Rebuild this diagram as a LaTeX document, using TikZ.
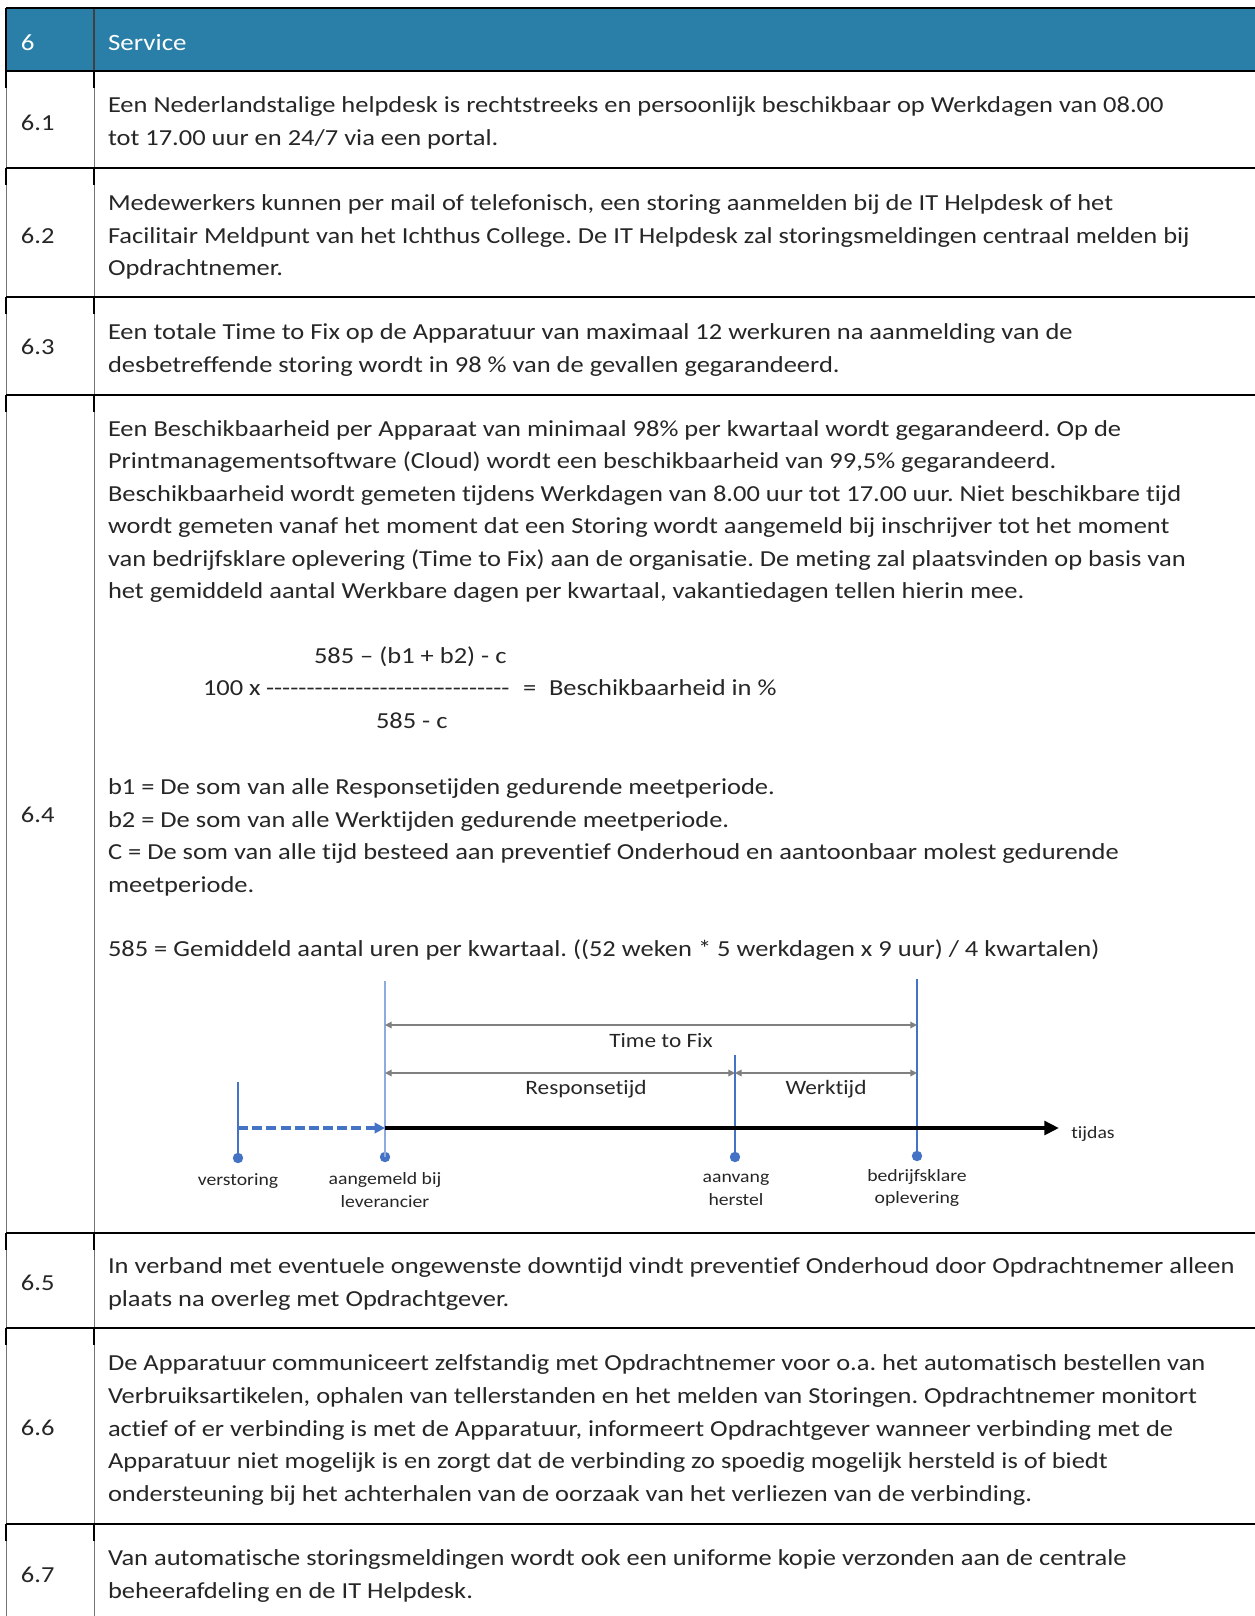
\documentclass[tikz,border=0pt]{standalone}
\usepackage{fontspec}
\setmainfont{Carlito}[FakeStretch=1.155,Ligatures=NoCommon]
\newfontfamily\diagfont{Carlito}[FakeStretch=1.14,Ligatures=NoCommon]
\usetikzlibrary{arrows.meta}
\definecolor{hdr}{RGB}{41,127,168}
\definecolor{txtc}{RGB}{38,38,38}
\definecolor{lblue}{RGB}{68,114,196}
\definecolor{pblue}{RGB}{143,170,220}
\definecolor{garr}{RGB}{128,128,128}
\frenchspacing
\begin{document}
\begin{tikzpicture}[x=0.48pt,y=-0.48pt,
 txt/.style={anchor=base west,inner sep=0,outer sep=0,text=txtc,font=\fontsize{11pt}{13pt}\selectfont},
 hdrtxt/.style={anchor=base west,inner sep=0,outer sep=0,text=white,font=\fontsize{11.2pt}{14pt}\selectfont},
 hline/.style={line width=0.75pt,black},
 vthin/.style={line width=0.45pt,black!55},
 stub/.style={line width=1.1pt,black},
 vblue/.style={line width=0.8pt,lblue},
 dot/.style={circle,fill=lblue,inner sep=0,minimum size=5pt},
 garrow/.style={line width=0.6pt,garr,{Triangle[length=3.2pt,width=3.2pt]}-{Triangle[length=3.2pt,width=3.2pt]}},
 lbl/.style={font=\diagfont\fontsize{9.8pt}{12pt}\selectfont,text=txtc,inner sep=0},
 slbl/.style={font=\diagfont\fontsize{8.3pt}{11pt}\selectfont,text=txtc,inner sep=0,align=center}]

\useasboundingbox (0,0) rectangle (1255,1616);
\fill[white] (0,0) rectangle (1255,1616);
\fill[hdr] (6,8) rectangle (1255,71);

% table grid
\draw[vthin] (6,8) -- (6,1616);
\draw[vthin] (94,8) -- (94,1616);
\draw[stub] (6,8) -- (6,71);
\draw[line width=0.5pt,black!75] (94,8) -- (94,71);
\foreach \y in {71,168,297,395,1233,1328,1524} {
  \draw[stub] (6,\y) -- (6,{\y+17});
  \draw[stub] (94,\y) -- (94,{\y+17});
  \draw[hline] (6,\y) -- (1255,\y);
}
\draw[line width=1pt,black] (6,8) -- (1255,8);

% header
\node[hdrtxt] (h6) at (21,50) {6};
\node[hdrtxt] (hs) at (108,50) {Service};

% numbers
\node[txt] (n61) at (21,130) {6.1};
\node[txt] (n62) at (21,243) {6.2};
\node[txt] (n63) at (21,354) {6.3};
\node[txt] (n64) at (21,822) {6.4};
\node[txt] (n65) at (21,1290) {6.5};
\node[txt] (n66) at (21,1435) {6.6};
\node[txt] (n67) at (21,1582) {6.7};

% 6.1
\node[txt] (t61a) at (108,112) {Een Nederlandstalige helpdesk is rechtstreeks en persoonlijk beschikbaar op Werkdagen van 08.00};
\node[txt] (t61b) at (108,145) {tot 17.00 uur en 24/7 via een portal.};
% 6.2
\node[txt] (t62a) at (108,210) {Medewerkers kunnen per mail of telefonisch, een storing aanmelden bij de IT Helpdesk of het};
\node[txt] (t62b) at (108,243) {Facilitair Meldpunt van het Ichthus College. De IT Helpdesk zal storingsmeldingen centraal melden bij};
\node[txt] (t62c) at (108,275) {Opdrachtnemer.};
% 6.3
\node[txt] (t63a) at (108,339) {Een totale Time to Fix op de Apparatuur van maximaal 12 werkuren na aanmelding van de};
\node[txt] (t63b) at (108,372) {desbetreffende storing wordt in 98 \% van de gevallen gegarandeerd.};
% 6.4
\node[txt] (t64a) at (108,436) {Een Beschikbaarheid per Apparaat van minimaal 98\% per kwartaal wordt gegarandeerd. Op de};
\node[txt] (t64b) at (108,468) {Printmanagementsoftware (Cloud) wordt een beschikbaarheid van 99,5\% gegarandeerd.};
\node[txt] (t64c) at (108,501) {Beschikbaarheid wordt gemeten tijdens Werkdagen van 8.00 uur tot 17.00 uur. Niet beschikbare tijd};
\node[txt] (t64d) at (108,533) {wordt gemeten vanaf het moment dat een Storing wordt aangemeld bij inschrijver tot het moment};
\node[txt] (t64e) at (108,566) {van bedrijfsklare oplevering (Time to Fix) aan de organisatie. De meting zal plaatsvinden op basis van};
\node[txt] (t64f) at (108,598) {het gemiddeld aantal Werkbare dagen per kwartaal, vakantiedagen tellen hierin mee.};
% formula
\node[txt] (fnum) at (314,663) {585 – (b1 + b2) - c};
\node[txt] (f100) at (203,695) {100 x};
\node[txt] (fdash) at (266,695) {\hbox to 117pt{\xleaders\hbox{-}\hfill}};
\node[txt] (feq) at (523,695) {=};
\node[txt] (fres) at (549,695) {Beschikbaarheid in \%};
\node[txt] (fden) at (376,728) {585 - c};
% definitions
\node[txt] (db1) at (108,794) {b1 = De som van alle Responsetijden gedurende meetperiode.};
\node[txt] (db2) at (108,827) {b2 = De som van alle Werktijden gedurende meetperiode.};
\node[txt] (dca) at (108,859) {C = De som van alle tijd besteed aan preventief Onderhoud en aantoonbaar molest gedurende};
\node[txt] (dcb) at (108,892) {meetperiode.};
\node[txt] (d585) at (108,956) {585 = Gemiddeld aantal uren per kwartaal. ((52 weken * 5 werkdagen x 9 uur) / 4 kwartalen)};

% timeline diagram
\coordinate (vtop) at (238,1082);
\coordinate (atop) at (385,981);
\coordinate (htop) at (735,1055);
\coordinate (btop) at (917,979);
\node[dot] (vdot) at (238,1158) {};
\node[dot] (adot) at (385,1157) {};
\node[dot] (hdot) at (735,1157) {};
\node[dot] (bdot) at (917,1156) {};
\coordinate (aax) at (385,1128);
\coordinate (vax) at (238,1128);
\coordinate (axend) at (1059,1128);
\coordinate (attf) at (385,1025);
\coordinate (bttf) at (917,1025);
\coordinate (ares) at (385,1073);
\coordinate (hres) at (735,1073);
\coordinate (bres) at (917,1073);

\draw[vblue] (vtop) -- (vdot.center);
\draw[line width=0.8pt,pblue] (atop) -- (adot.center);
\draw[vblue] (htop) -- (hdot.center);
\draw[vblue] (btop) -- (bdot.center);

\draw[line width=2pt,black,-{Triangle[length=7pt,width=6.5pt]}] (aax) -- (axend);
\draw[line width=1.9pt,lblue,dash pattern=on 4.8pt off 2pt,-{Triangle[length=5pt,width=5pt]}] (vax) -- (aax);

\draw[garrow] (attf) -- (bttf);
\draw[garrow] (ares) -- (hres);
\draw[garrow] (hres) -- (bres);

\node[lbl] (lttf) at (661,1041) {Time to Fix};
\node[lbl] (lres) at (586,1089) {Responsetijd};
\node[lbl] (lwerk) at (826,1089) {Werktijd};
\node[slbl] (ltij) at (1093,1134) {tijdas};
\node[slbl] (lver) at (238,1181) {verstoring};
\node[slbl] (lgem) at (385,1190) {aangemeld bij\\leverancier};
\node[slbl] (lher) at (736,1190) {aanvang\\herstel};
\node[slbl] (lopl) at (917,1188) {bedrijfsklare\\oplevering};

% 6.5
\node[txt] (t65a) at (108,1273) {In verband met eventuele ongewenste downtijd vindt preventief Onderhoud door Opdrachtnemer alleen};
\node[txt] (t65b) at (108,1306) {plaats na overleg met Opdrachtgever.};
% 6.6
\node[txt] (t66a) at (108,1370) {De Apparatuur communiceert zelfstandig met Opdrachtnemer voor o.a. het automatisch bestellen van};
\node[txt] (t66b) at (108,1403) {Verbruiksartikelen, ophalen van tellerstanden en het melden van Storingen. Opdrachtnemer monitort};
\node[txt] (t66c) at (108,1436) {actief of er verbinding is met de Apparatuur, informeert Opdrachtgever wanneer verbinding met de};
\node[txt] (t66d) at (108,1468) {Apparatuur niet mogelijk is en zorgt dat de verbinding zo spoedig mogelijk hersteld is of biedt};
\node[txt] (t66e) at (108,1501) {ondersteuning bij het achterhalen van de oorzaak van het verliezen van de verbinding.};
% 6.7
\node[txt] (t67a) at (108,1565) {Van automatische storingsmeldingen wordt ook een uniforme kopie verzonden aan de centrale};
\node[txt] (t67b) at (108,1598) {beheerafdeling en de IT Helpdesk.};
\end{tikzpicture}
\end{document}
